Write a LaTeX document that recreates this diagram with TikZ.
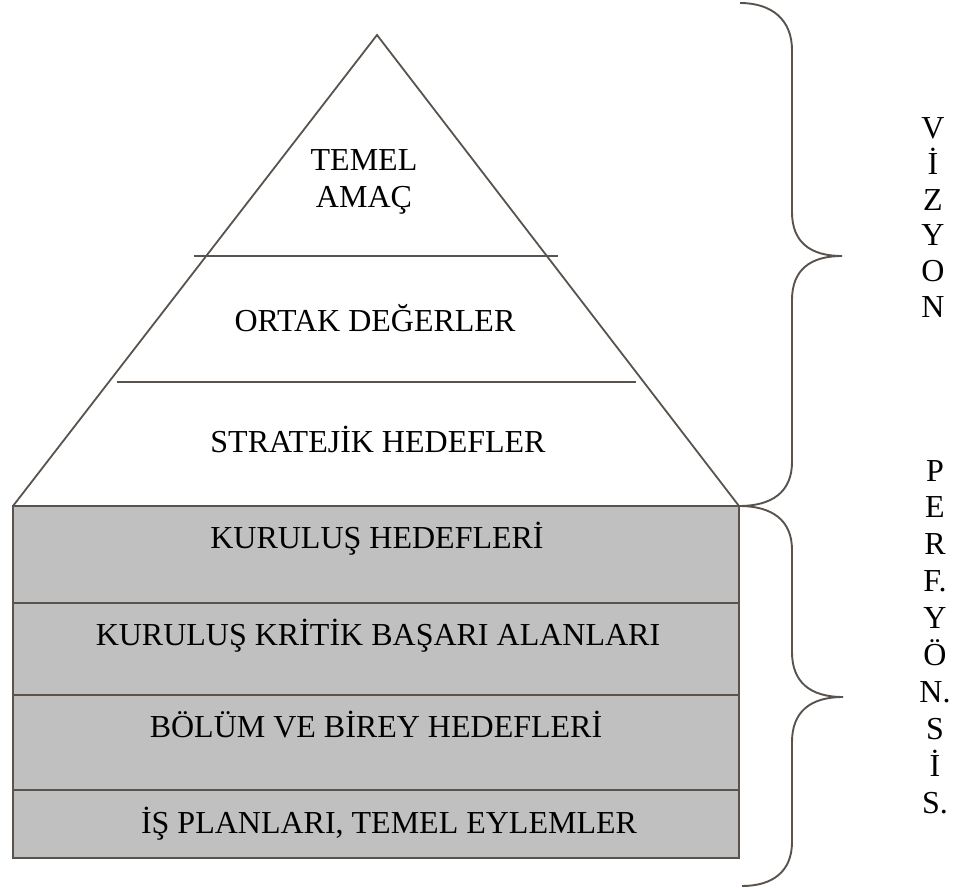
\documentclass[tikz,border=0pt]{standalone}
\usepackage{fontspec}
\setmainfont{Liberation Serif}
\definecolor{edge}{RGB}{90,82,76}
\definecolor{boxfill}{RGB}{192,192,192}
\begin{document}
\begin{tikzpicture}[x=1pt,y=-1pt,
  lbl/.style={inner sep=0pt, anchor=base, font=\fontsize{32}{38}\selectfont},
  ltr/.style={inner sep=0pt, anchor=base, font=\fontsize{32}{38}\selectfont},
  ln/.style={draw=edge, line width=1.8pt},
  br/.style={draw=edge, line width=1.9pt}]
\useasboundingbox (0,0) rectangle (961,888);
% coordinates
\coordinate (apex) at (377,35);
\coordinate (bl) at (13,506);
\coordinate (br) at (739,506);
\coordinate (bb) at (739,858);
\coordinate (lb) at (13,858);
% gray box rows
\fill[boxfill] (bl) rectangle (bb);
\draw[ln] (13,603) coordinate (r1l) -- (739,603) coordinate (r1r);
\draw[ln] (13,695) coordinate (r2l) -- (739,695) coordinate (r2r);
\draw[ln] (13,790) coordinate (r3l) -- (739,790) coordinate (r3r);
\draw[ln, line width=2.2pt] (bl) -- (br) -- (bb) -- (lb) -- cycle;
% triangle
\draw[ln] (bl) -- (apex) -- (br);
\draw[ln] (194,256) coordinate (h1l) -- (558,256) coordinate (h1r);
\draw[ln] (117,382) coordinate (h2l) -- (636,382) coordinate (h2r);
% texts
\node[lbl] (t1) at (364,170) {TEMEL};
\node[lbl] (t2) at (364,207) {AMAÇ};
\node[lbl] (t3) at (375,331) {ORTAK DEĞERLER};
\node[lbl] (t4) at (378,452) {STRATEJİK HEDEFLER};
\node[lbl] (k1) at (377,548) {KURULUŞ HEDEFLERİ};
\node[lbl] (k2) at (378,645) {KURULUŞ KRİTİK BAŞARI ALANLARI};
\node[lbl] (k3) at (376,737) {BÖLÜM VE BİREY HEDEFLERİ};
\node[lbl] (k4) at (389,833) {İŞ PLANLARI, TEMEL EYLEMLER};
% braces
\draw[br] (740,3) .. controls (772,3) and (792,20) .. (792,50) -- (792,212)
  .. controls (792,242) and (810,256) .. (842,256)
  .. controls (810,256) and (792,270) .. (792,300) -- (792,462)
  .. controls (792,492) and (772,506) .. (br);
\draw[br] (br) .. controls (772,506) and (792,520) .. (792,550) -- (792,652)
  .. controls (792,682) and (810,697) .. (843,697)
  .. controls (810,697) and (792,712) .. (792,742) -- (792,842)
  .. controls (792,872) and (772,886) .. (742,886);
% vertical words
\foreach \l [count=\i] in {V,İ,Z,Y,O,N}
  \node[ltr] (v\i) at (933,{139+35.6*(\i-1)}) {\l};
\foreach \l [count=\i] in {P,E,R,F.,Y,Ö,N.,S,İ,S.}
  \node[ltr] (p\i) at (935,{481+36.9*(\i-1)}) {\l};
\end{tikzpicture}
\end{document}
